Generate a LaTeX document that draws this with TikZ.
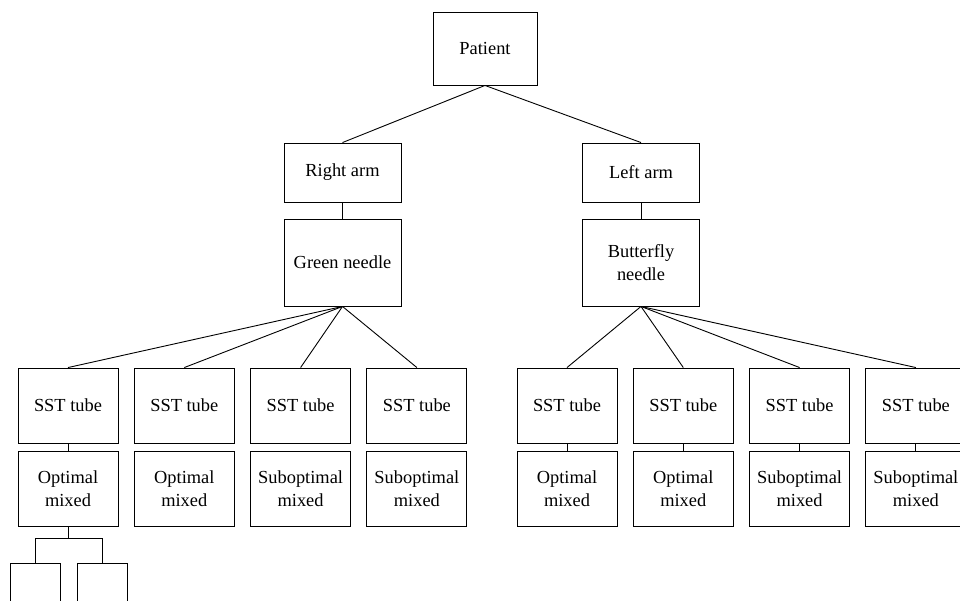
\documentclass[tikz,border=0pt]{standalone}
\usepackage{fontspec}
\setmainfont{Liberation Serif}
\usepackage{tikz}

\begin{document}
\begin{tikzpicture}[
          x=1pt, y=1pt,
          every node/.style={font=\rmfamily\fontsize{18.4}{23}\selectfont},
          block/.style={draw, line width=0.9pt, align=center, inner sep=2pt},
          top/.style={block, minimum width=104pt, minimum height=73pt},
          arm/.style={block, minimum width=117pt, minimum height=59pt},
          needle/.style={block, minimum width=117pt, minimum height=87pt},
          tube/.style={block, minimum width=100pt, minimum height=75pt},
          leaf/.style={block, minimum width=50pt, minimum height=75pt},
          link/.style={line width=0.9pt},
          node distance=116.3pt,
          ]

          \useasboundingbox (0,0) rectangle (960,-600);
          \clip (0,0) rectangle (960,-600);

          \node[top] (patient) at (485,-48.5) {Patient};

          \node[arm] (rarm) at (342.5,-172.5) {Right arm};
          \node[arm] (larm) at (641,-172.5) {Left arm};
          \node[needle, below of=rarm, node distance=90pt] (green) {Green needle};
          \node[needle, below of=larm, node distance=90pt] (butterfly) {Butterfly\\needle};

          % right arm tubes
          \node[tube] (tube1) at (68,-405.5) {SST tube};
          \node[tube, right of=tube1] (tube2) {SST tube};
          \node[tube, right of=tube2] (tube3) {SST tube};
          \node[tube, right of=tube3] (tube4) {SST tube};
          \node[tube, below of=tube1, node distance=83pt] (mix1) {Optimal\\mixed};
          \node[tube, below of=tube2, node distance=83pt] (mix2) {Optimal\\mixed};
          \node[tube, below of=tube3, node distance=83pt] (mix3) {Suboptimal\\mixed};
          \node[tube, below of=tube4, node distance=83pt] (mix4) {Suboptimal\\mixed};

          % left arm tubes
          \node[tube] (tube5) at (567,-405.5) {SST tube};
          \node[tube, right of=tube5] (tube6) {SST tube};
          \node[tube, right of=tube6] (tube7) {SST tube};
          \node[tube, right of=tube7] (tube8) {SST tube};
          \node[tube, below of=tube5, node distance=83pt] (mix5) {Optimal\\mixed};
          \node[tube, below of=tube6, node distance=83pt] (mix6) {Optimal\\mixed};
          \node[tube, below of=tube7, node distance=83pt] (mix7) {Suboptimal\\mixed};
          \node[tube, below of=tube8, node distance=83pt] (mix8) {Suboptimal\\mixed};

          \node[leaf, anchor=north] (leaf1) at (35,-563) {};
          \node[leaf, anchor=north] (leaf2) at (102,-563) {};

          \draw[link] (patient.south) -- (rarm.north);
          \draw[link] (patient.south) -- (larm.north);
          \draw[link] (rarm) -- (green);
          \draw[link] (larm) -- (butterfly);

          \draw[link] (green.south) -- (tube1.north);
          \draw[link] (green.south) -- (tube2.north);
          \draw[link] (green.south) -- (tube3.north);
          \draw[link] (green.south) -- (tube4.north);
          \draw[link] (butterfly.south) -- (tube5.north);
          \draw[link] (butterfly.south) -- (tube6.north);
          \draw[link] (butterfly.south) -- (tube7.north);
          \draw[link] (butterfly.south) -- (tube8.north);

          \draw[link] (tube1) -- (mix1);
          \draw[link] (tube5) -- (mix5);
          \draw[link] (tube6) -- (mix6);
          \draw[link] (tube7) -- (mix7);
          \draw[link] (tube8) -- (mix8);

          \draw[link] (mix1.south) -- ++(0,-12) coordinate (fork);
          \draw[link] (leaf1.north) |- (fork) -| (leaf2.north);

        \end{tikzpicture}
\end{document}
